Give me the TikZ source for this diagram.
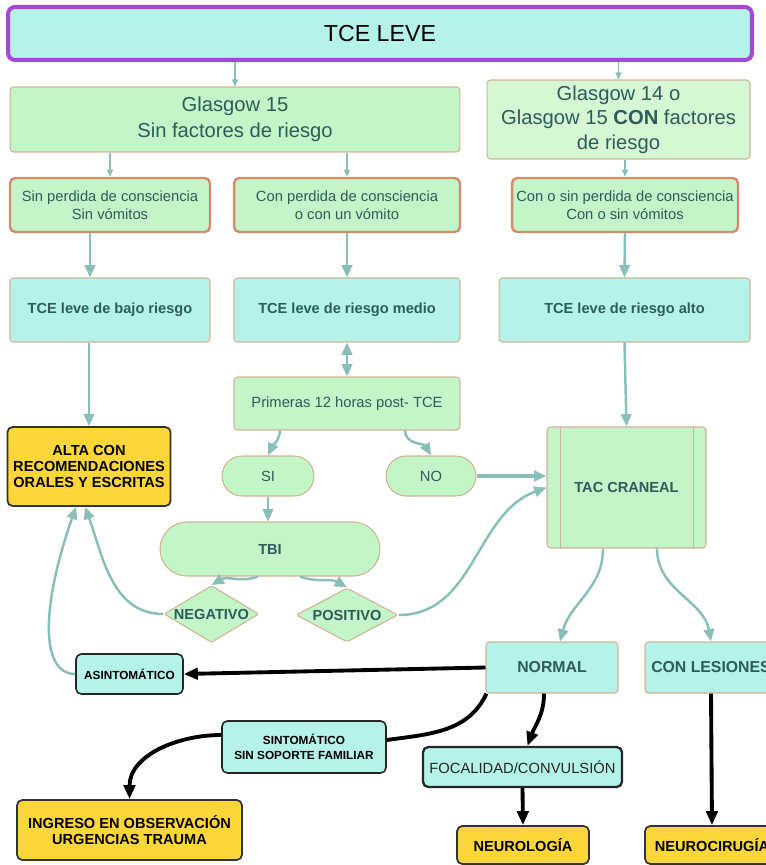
\documentclass[tikz,border=0pt]{standalone}
\usepackage{fontspec}
\setmainfont{Liberation Sans}
\usepackage{tikz}
\usetikzlibrary{shapes.geometric, arrows.meta, positioning, calc}
\definecolor{cyanfill}{RGB}{180, 242, 234}
\definecolor{greenfill}{RGB}{194, 245, 199}
\definecolor{palegreen}{RGB}{214, 247, 212}
\definecolor{alertyellow}{RGB}{253, 214, 58}
\definecolor{purpleline}{RGB}{164, 72, 214}
\definecolor{tanline}{RGB}{212, 178, 150}
\definecolor{rustline}{RGB}{212, 140, 112}
\definecolor{linkteal}{RGB}{138, 190, 186}
\definecolor{darkteal}{RGB}{46, 92, 90}

\newcommand{\smalltxt}{\fontsize{8.4}{10.2}\selectfont}
\newcommand{\boldtxt}{\fontsize{8.3}{9.2}\selectfont\bfseries}
\newcommand{\tinytxt}{\fontsize{6.7}{8.5}\selectfont\bfseries}

\tikzset{
    box/.style={draw=tanline, line width=0.6pt, rounded corners=2pt, align=center,
                inner sep=2pt, text=darkteal},
    riskbox/.style={box, fill=greenfill, draw=rustline, line width=1.4pt,
                    rounded corners=3pt, font=\smalltxt, minimum height=1.08cm},
    levelbox/.style={box, fill=cyanfill, font=\boldtxt, minimum height=1.28cm},
    pillbox/.style={box, fill=greenfill, font=\smalltxt, rounded corners=0.4cm,
                    minimum height=0.8cm},
    testbox/.style={box, diamond, fill=greenfill, font=\boldtxt, inner sep=0pt,
                    aspect=1.7, rounded corners=1pt},
    outcomebox/.style={fill=alertyellow, draw=black!80, line width=1pt, rounded corners=3pt,
                       align=center, text=black, font=\boldtxt},
    notebox/.style={fill=cyanfill, draw=black!85, line width=0.9pt, rounded corners=3pt,
                    align=center, text=black, font=\tinytxt},
    thinarrow/.style={draw=linkteal, line width=0.6pt, -{Triangle[length=4pt, width=3.5pt]}},
    linkarrow/.style={draw=linkteal, line width=1.4pt, -{Triangle[length=7pt, width=6pt]}},
    blackline/.style={draw=black, line width=2.2pt},
    blackarrow/.style={blackline, -{Triangle[length=8pt, width=6.5pt]}}
}

\begin{document}
\begin{tikzpicture}[x=0.02cm, y=0.02cm]
    \useasboundingbox (0,0) rectangle (766,-865);
    \clip (0,0) rectangle (766,-865);

    % entrada
    \node[box, fill=cyanfill, draw=purpleline, line width=2.3pt, rounded corners=4pt, text=black,
          minimum width=14.88cm, minimum height=1.06cm,
          font=\fontsize{13.2}{15}\selectfont] (title) at (380,-33.5) {TCE LEVE};

    % Glasgow
    \node[box, fill=greenfill, minimum width=9cm, minimum height=1.3cm,
          font=\fontsize{11.5}{14.8}\selectfont] (g15) at (235,-119.5)
          {Glasgow 15\\Sin factores de riesgo};
    \node[box, fill=palegreen, minimum width=5.26cm, minimum height=1.58cm,
          font=\fontsize{11.5}{14}\selectfont] (g14) at (618.5,-119.5)
          {Glasgow 14 o\\Glasgow 15 \textbf{CON} factores\\de riesgo};

    % clinica
    \node[riskbox, minimum width=4cm] (sinper) at (110,-205)
          {Sin perdida de consciencia\\Sin vómitos};
    \node[riskbox, minimum width=4.52cm] (conper) at (347,-205)
          {Con perdida de consciencia\\o con un vómito};
    \node[riskbox, minimum width=4.52cm] (conosin) at (625,-205)
          {Con o sin perdida de consciencia\\Con o sin vómitos};

    % riesgo
    \node[levelbox, minimum width=4cm] (bajo) at (110,-310) {TCE leve de bajo riesgo};
    \node[levelbox, minimum width=4.52cm] (medio) at (347,-310) {TCE leve de riesgo medio};
    \node[levelbox, minimum width=5.02cm] (alto) at (624.5,-310) {TCE leve de riesgo alto};

    \node[box, fill=greenfill, font=\smalltxt, minimum width=4.52cm, minimum height=1.06cm]
          (prim) at (347,-403.5) {Primeras 12 horas post- TCE};
    \node[outcomebox, minimum width=3.16cm, minimum height=1.58cm] (alta) at (89,-466.5)
          {ALTA CON\\RECOMENDACIONES\\ORALES Y ESCRITAS};
    \node[pillbox, minimum width=1.84cm] (si) at (268,-476) {SI};
    \node[pillbox, minimum width=1.8cm] (no) at (431,-476) {NO};
    \node[box, fill=greenfill, font=\boldtxt, minimum width=3.18cm, minimum height=2.42cm]
          (tac) at (626.5,-487.5) {TAC CRANEAL};
    \draw[tanline, line width=0.6pt] ([xshift=0.28cm]tac.north west) -- ([xshift=0.28cm]tac.south west);
    \draw[tanline, line width=0.6pt] ([xshift=-0.26cm]tac.north east) -- ([xshift=-0.26cm]tac.south east);

    \node[box, fill=greenfill, font=\boldtxt, rounded corners=0.54cm,
          minimum width=4.4cm, minimum height=1.08cm] (tbi) at (270,-549) {TBI};
    \node[testbox, minimum width=1.9cm, minimum height=1.14cm] (neg) at (211.5,-614) {NEGATIVO};
    \node[testbox, minimum width=2.04cm, minimum height=1.08cm] (pos) at (347,-615) {POSITIVO};

    % resultado TAC
    \node[box, fill=cyanfill, font=\fontsize{9}{11}\selectfont\bfseries,
          minimum width=2.64cm, minimum height=1.02cm] (normal) at (552,-667.5) {NORMAL};
    \node[box, fill=cyanfill, font=\fontsize{9}{11}\selectfont\bfseries,
          minimum width=2.64cm, minimum height=1.02cm] (lesion) at (711,-667.5) {CON LESIONES};
    \node[notebox, minimum width=2.14cm, minimum height=0.8cm] (asin) at (129.5,-674) {ASINTOMÁTICO};
    \node[notebox, minimum width=3.28cm, minimum height=1.04cm] (sint) at (304,-747)
          {SINTOMÁTICO\\SIN SOPORTE FAMILIAR};
    \node[notebox, line width=1.3pt, font=\smalltxt, text=black!85,
          minimum width=3.98cm, minimum height=0.8cm] (focal) at (522.5,-767) {FOCALIDAD/CONVULSIÓN};

    \node[outcomebox, minimum width=4.5cm, minimum height=1.2cm] (ingreso) at (129.5,-830)
          {INGRESO EN OBSERVACIÓN\\URGENCIAS TRAUMA};
    \node[outcomebox, minimum width=2.64cm, minimum height=0.76cm] (neurol) at (523,-845) {NEUROLOGÍA};
    \node[outcomebox, minimum width=2.68cm, minimum height=0.76cm] (neuroc) at (712,-845) {NEUROCIRUGÍA};

    % flechas
    \draw[thinarrow] (g15.north |- title.south) -- (g15.north);
    \draw[thinarrow] (g14.north |- title.south) -- (g14.north);
    \draw[thinarrow] (sinper.north |- g15.south) -- (sinper.north);
    \draw[thinarrow] (conper.north |- g15.south) -- (conper.north);
    \draw[thinarrow] (conosin.north |- g14.south) -- (conosin.north);

    \coordinate (c1) at ([xshift=-0.4cm]sinper.south);
    \draw[linkarrow] (c1) -- (c1 |- bajo.north);
    \draw[linkarrow] (conper.south) -- (medio.north);
    \draw[linkarrow] (conosin.south) -- (alto.north);
    \draw[linkarrow] (alta.north |- bajo.south) -- (alta.north);
    \draw[linkarrow, {Triangle[length=7pt, width=6pt]}-{Triangle[length=7pt, width=6pt]}]
          (medio.south) -- (prim.north);
    \draw[linkarrow] (alto.south) -- (tac.north);

    \draw[linkarrow] ([xshift=-1.34cm]prim.south) to[out=-95, in=65] (si.north);
    \draw[linkarrow] ([xshift=1.16cm]prim.south) to[out=-90, in=120] (no.north);
    \draw[linkarrow, line width=1.8pt] (no.east) -- (no.east -| tac.west);
    \draw[linkarrow, line width=1pt] (si.south) -- (si.south |- tbi.north);
    \draw[linkarrow] ([xshift=-0.24cm]tbi.south) to[out=-160, in=30] (neg.north);
    \draw[linkarrow] ([xshift=0.6cm]tbi.south) to[out=-20, in=150] (pos.north);
    \draw[linkarrow] (neg.west) to[out=180, in=-70] ([xshift=-0.08cm]alta.south);
    \draw[linkarrow] (pos.east) to[out=0, in=-160] ([yshift=0cm]tac.west);
    \draw[linkarrow] (asin.west) .. controls +(-35,0) and +(-35,-100) .. ([xshift=-0.26cm]alta.south);

    \draw[linkarrow] ([xshift=-0.47cm]tac.south) to[out=-90, in=75] ([xshift=0.16cm]normal.north);
    \draw[linkarrow] ([xshift=0.61cm]tac.south) to[out=-90, in=100] (lesion.north);

    \draw[blackarrow] (normal.west) -- (asin.east);
    \draw[blackline] ([xshift=0.02cm]normal.south west) to[out=-115, in=8] ([yshift=0.14cm]sint.east);
    \draw[blackarrow] ([yshift=0.24cm]sint.west) to[out=180, in=90] (ingreso.north);
    \draw[blackarrow] ([xshift=-0.16cm]normal.south) to[out=-90, in=70] ([xshift=0.1cm]focal.north);
    \draw[blackarrow] (focal.south) -- (neurol.north);
    \draw[blackarrow] (lesion.south) -- (neuroc.north);
\end{tikzpicture}
\end{document}
